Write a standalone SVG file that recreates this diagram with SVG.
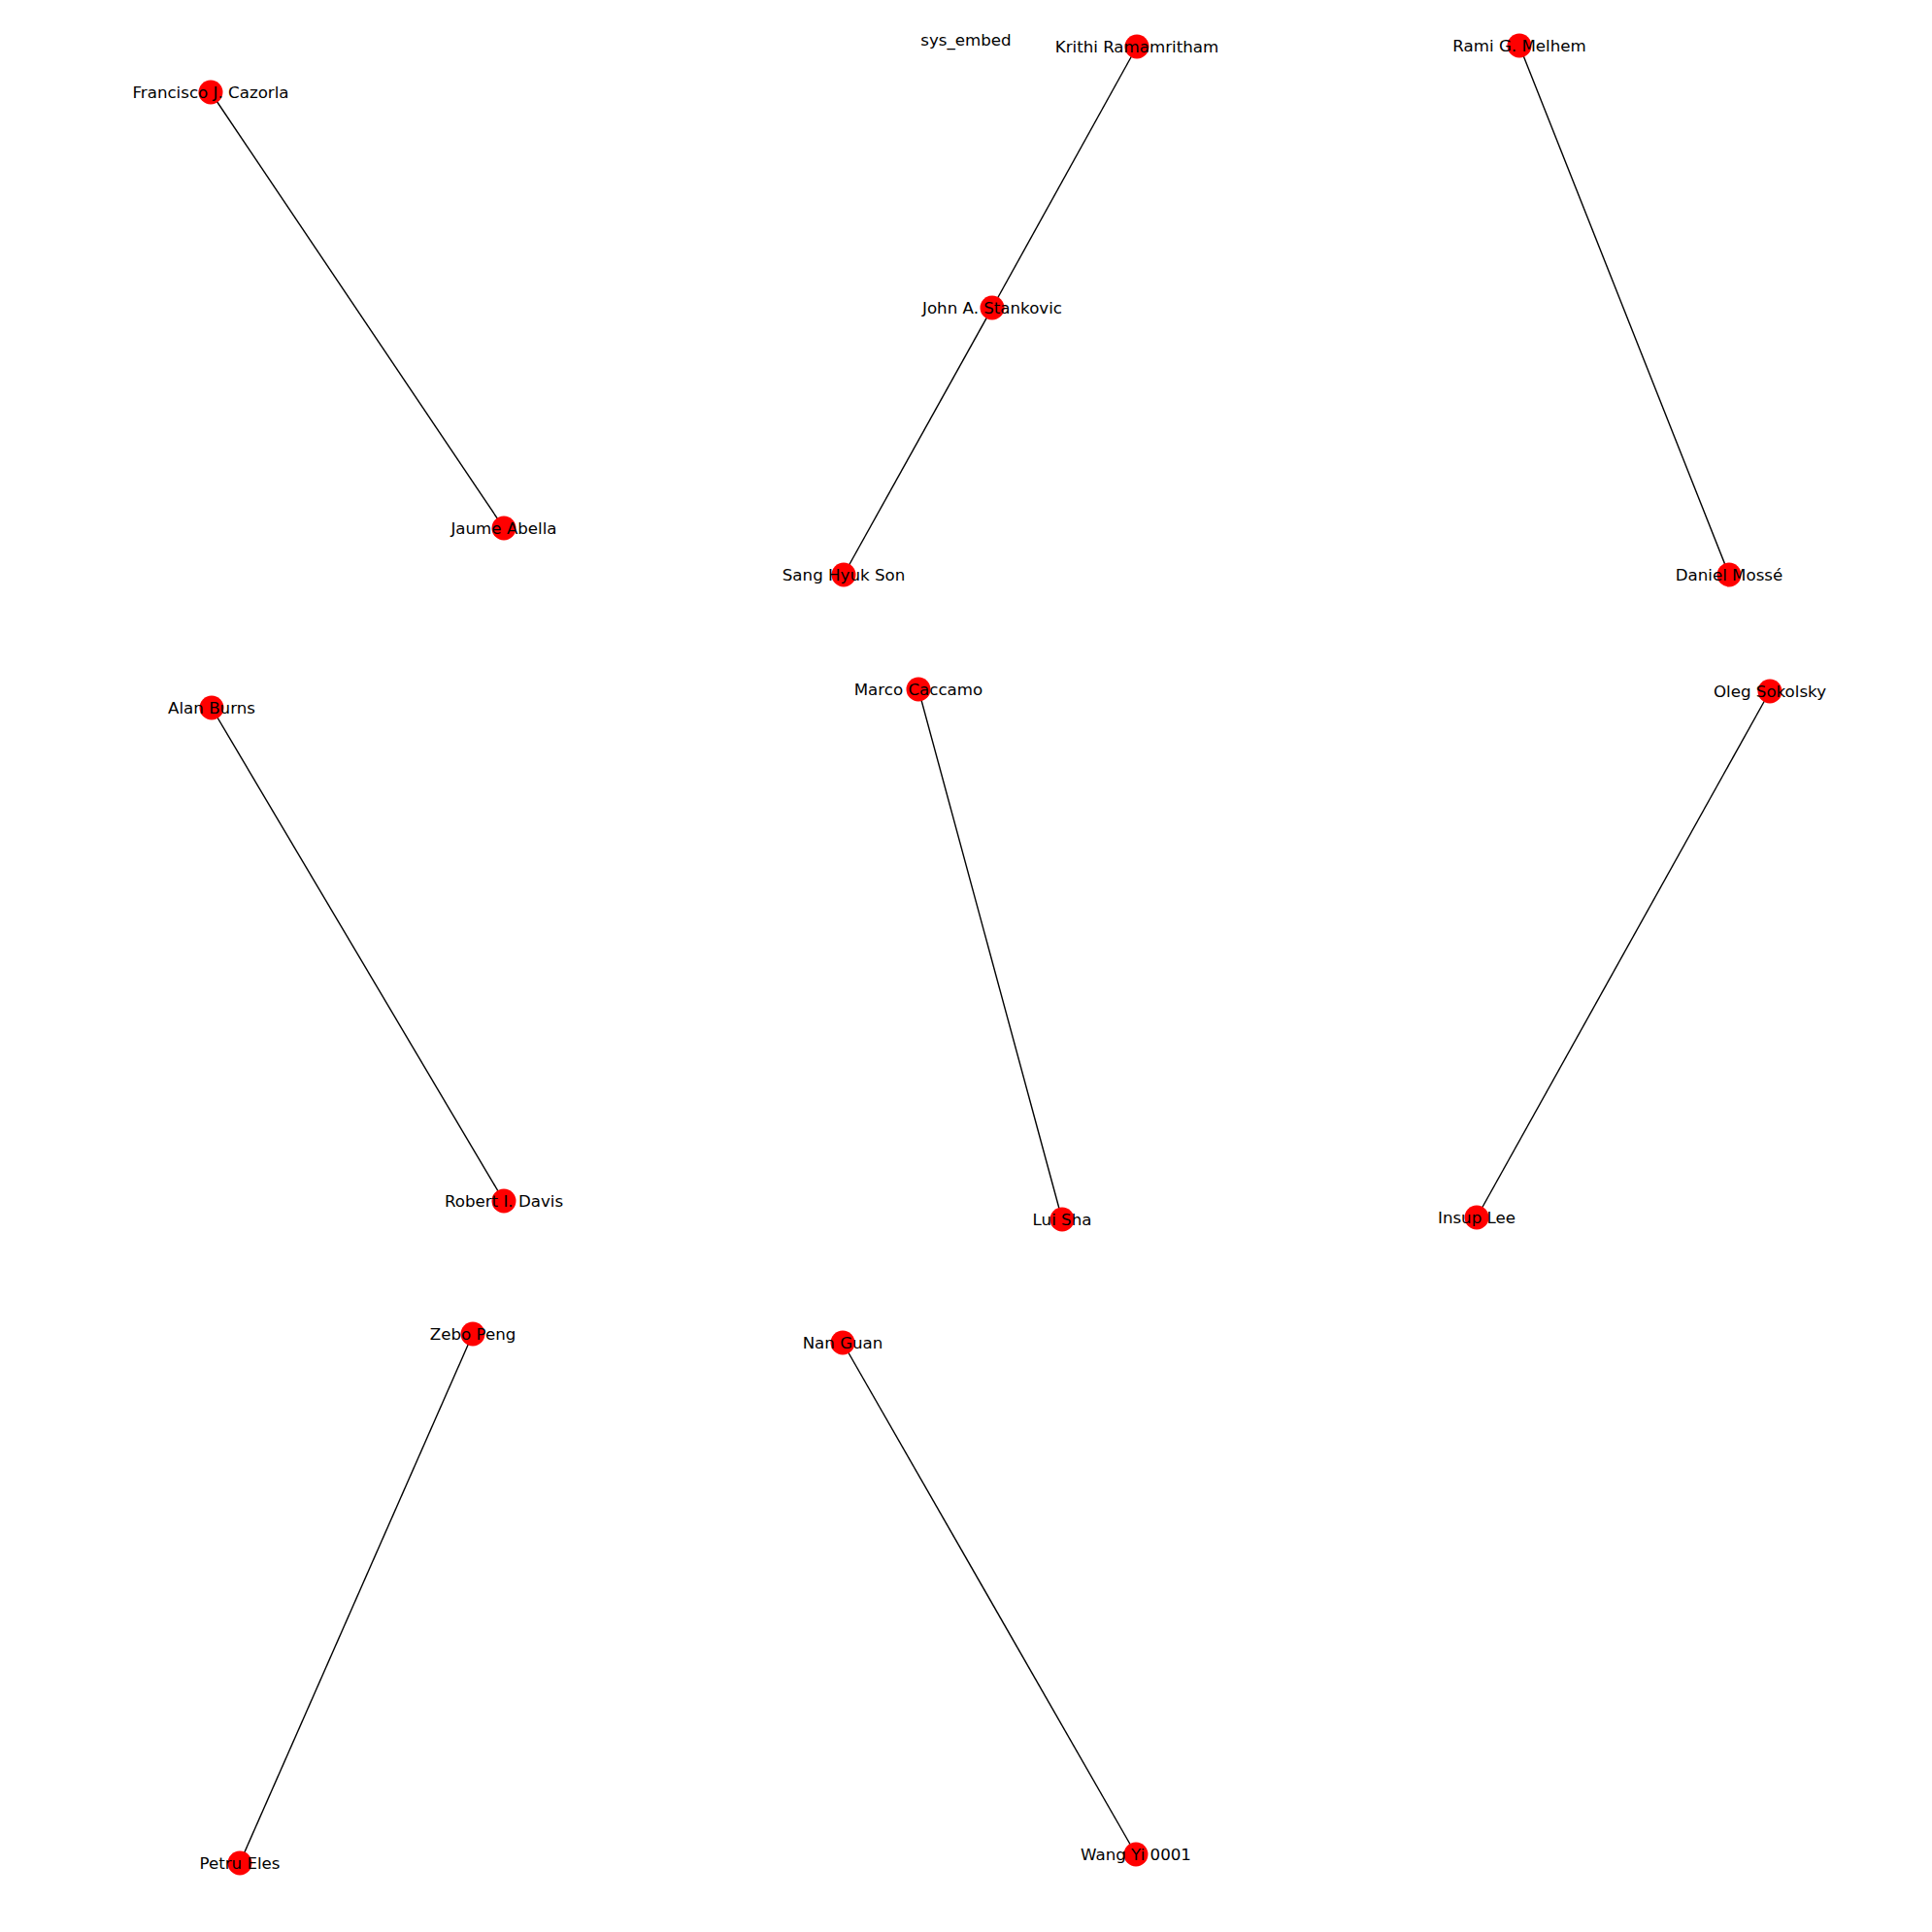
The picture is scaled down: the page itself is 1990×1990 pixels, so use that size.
<svg xmlns="http://www.w3.org/2000/svg" width="1990" height="1990" viewBox="0 0 1990 1990">
<style>
.edge{stroke:#000;stroke-width:1.4;fill:none}
.node circle{fill:#ff0000}
.lbl{font-family:"DejaVu Sans",sans-serif;font-size:16.67px;fill:#000;text-anchor:middle}
</style>
<rect width="1990" height="1990" fill="#fff"/>
<!-- graph title; labels sit on their baseline, about 5.5px below node centre -->
<text class="lbl" x="995" y="47">sys_embed</text>
<g id="edges">
<line class="edge" x1="217" y1="95" x2="519" y2="544"/>
<line class="edge" x1="1171" y1="48" x2="1022" y2="317"/>
<line class="edge" x1="1022" y1="317" x2="869" y2="592"/>
<line class="edge" x1="1565" y1="47" x2="1781" y2="592"/>
<line class="edge" x1="218" y1="729" x2="519" y2="1237"/>
<line class="edge" x1="946" y1="710" x2="1094" y2="1256"/>
<line class="edge" x1="1823" y1="712" x2="1521" y2="1254"/>
<line class="edge" x1="487" y1="1374" x2="247" y2="1919"/>
<line class="edge" x1="868" y1="1383" x2="1170" y2="1910"/>
</g>
<g id="n_cazorla" class="node"><circle cx="217" cy="95" r="12.5"/><text class="lbl" x="217" y="100.5">Francisco J. Cazorla</text></g>
<g id="n_abella" class="node"><circle cx="519" cy="544" r="12.5"/><text class="lbl" x="519" y="549.5">Jaume Abella</text></g>
<g id="n_ramamritham" class="node"><circle cx="1171" cy="48" r="12.5"/><text class="lbl" x="1171" y="53.5">Krithi Ramamritham</text></g>
<g id="n_stankovic" class="node"><circle cx="1022" cy="317" r="12.5"/><text class="lbl" x="1022" y="322.5">John A. Stankovic</text></g>
<g id="n_son" class="node"><circle cx="869" cy="592" r="12.5"/><text class="lbl" x="869" y="597.5">Sang Hyuk Son</text></g>
<g id="n_melhem" class="node"><circle cx="1565" cy="47" r="12.5"/><text class="lbl" x="1565" y="52.5">Rami G. Melhem</text></g>
<g id="n_mosse" class="node"><circle cx="1781" cy="592" r="12.5"/><text class="lbl" x="1781" y="597.5">Daniel Mossé</text></g>
<g id="n_burns" class="node"><circle cx="218" cy="729" r="12.5"/><text class="lbl" x="218" y="734.5">Alan Burns</text></g>
<g id="n_davis" class="node"><circle cx="519" cy="1237" r="12.5"/><text class="lbl" x="519" y="1242.5">Robert I. Davis</text></g>
<g id="n_caccamo" class="node"><circle cx="946" cy="710" r="12.5"/><text class="lbl" x="946" y="715.5">Marco Caccamo</text></g>
<g id="n_sha" class="node"><circle cx="1094" cy="1256" r="12.5"/><text class="lbl" x="1094" y="1261.5">Lui Sha</text></g>
<g id="n_sokolsky" class="node"><circle cx="1823" cy="712" r="12.5"/><text class="lbl" x="1823" y="717.5">Oleg Sokolsky</text></g>
<g id="n_lee" class="node"><circle cx="1521" cy="1254" r="12.5"/><text class="lbl" x="1521" y="1259.5">Insup Lee</text></g>
<g id="n_peng" class="node"><circle cx="487" cy="1374" r="12.5"/><text class="lbl" x="487" y="1379.5">Zebo Peng</text></g>
<g id="n_eles" class="node"><circle cx="247" cy="1919" r="12.5"/><text class="lbl" x="247" y="1924.5">Petru Eles</text></g>
<g id="n_guan" class="node"><circle cx="868" cy="1383" r="12.5"/><text class="lbl" x="868" y="1388.5">Nan Guan</text></g>
<g id="n_wang" class="node"><circle cx="1170" cy="1910" r="12.5"/><text class="lbl" x="1170" y="1915.5">Wang Yi 0001</text></g>
</svg>
